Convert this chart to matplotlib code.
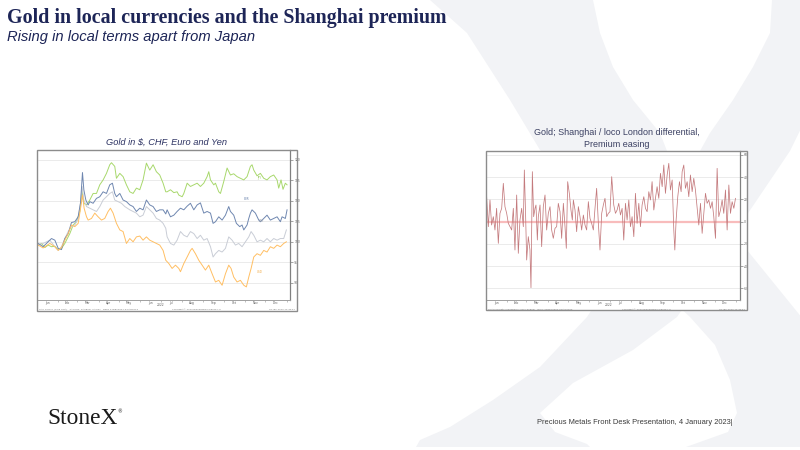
import matplotlib
matplotlib.use('Agg')
import matplotlib.pyplot as plt
from matplotlib.patches import Rectangle, Polygon
from matplotlib.transforms import Affine2D
import numpy as np

# slide text
title = 'Gold in local currencies and the Shanghai premium'
subtitle = 'Rising in local terms apart from Japan'
left_title = 'Gold in $, CHF, Euro and Yen'
right_title = 'Gold; Shanghai / loco London differential,\nPremium easing'
footer = 'Precious Metals Front Desk Presentation, 4 January 2023|'

# month axis (days from 1 Jan 2022)
month_names = ['Jan', 'Feb', 'Mar', 'Apr', 'May', 'Jun', 'Jul', 'Aug', 'Sep', 'Oct', 'Nov', 'Dec']
month_starts = [0, 31, 59, 90, 120, 151, 181, 212, 243, 273, 304, 334, 365]
month_mids = [15, 45, 74, 105, 135, 166, 196, 227, 258, 288, 319, 349]

# gold in yen, rebased to 100
jpy_day = [1.7, 6.6, 11.5, 16.3, 21.2, 26.1, 31.0, 35.8, 40.7, 43.1, 48.0, 52.9, 57.7, 62.6, 66.0,
           68.5, 72.4, 77.2, 82.1, 87.0, 91.8, 96.7, 101.6, 106.4, 108.9, 113.7, 116.2, 121.1, 125.9,
           130.8, 135.7, 140.5, 145.4, 150.3, 155.1, 160.0, 164.9, 169.8, 174.6, 179.5, 184.4, 188.3,
           190.3, 195.2, 200.1, 204.9, 207.4, 212.3, 214.7, 219.6, 224.4, 229.3, 234.2, 239.0, 243.9,
           248.8, 251.2, 253.7, 258.5, 261.0, 265.8, 268.3, 273.1, 278.0, 282.9, 287.7, 292.6, 297.5,
           302.4, 307.2, 312.1, 314.5, 317.0, 321.8, 326.7, 331.6, 336.4, 341.3, 346.2, 351.1, 353.5,
           356.9, 359.8, 363.2, 365.7]
jpy_val = [99.2, 99.6, 98.6, 99.2, 98.8, 98.9, 98.1, 98.4, 99.6, 100.4, 102.0, 104.1, 104.9, 107.4, 112.3,
           109.4, 109.0, 110.2, 111.8, 111.8, 113.9, 115.1, 116.7, 118.8, 119.3, 118.4, 115.5, 116.7, 115.9,
           113.9, 112.2, 111.8, 113.1, 112.7, 115.1, 119.2, 117.5, 118.8, 117.1, 116.3, 114.3, 112.2,
           112.2, 112.7, 112.0, 112.2, 111.4, 111.0, 111.8, 114.3, 113.5, 113.9, 114.3, 113.5, 114.3,
           115.9, 117.1, 115.1, 113.9, 114.3, 112.2, 111.8, 114.7, 118.0, 116.3, 116.6, 115.9, 115.5,
           115.1, 115.9, 118.4, 118.8, 117.5, 116.1, 116.7, 115.5, 115.1, 115.9, 116.3, 115.1, 113.1,
           115.1, 112.8, 114.3, 113.9]

# gold in euro
eur_day = [1.7, 9.0, 16.3, 21.2, 26.1, 31.0, 35.8, 40.7, 45.6, 50.4, 55.3, 60.2, 63.6, 66.5, 68.5,
           71.4, 74.8, 77.2, 82.1, 87.0, 91.8, 96.7, 101.6, 106.4, 110.3, 113.7, 116.2, 121.1, 125.9,
           130.8, 135.7, 140.5, 145.4, 150.3, 155.1, 160.0, 164.9, 169.8, 174.6, 179.5, 184.4, 188.3,
           190.3, 195.2, 200.1, 204.9, 209.8, 214.7, 219.6, 224.4, 229.3, 234.2, 239.0, 241.5, 243.9,
           248.8, 253.7, 257.5, 261.0, 265.8, 270.7, 275.6, 280.4, 282.9, 287.7, 291.6, 296.5, 299.9,
           302.4, 307.2, 309.7, 312.1, 314.5, 319.4, 324.3, 326.7, 331.6, 336.4, 341.3, 346.2, 351.1,
           355.9, 358.4, 363.2, 365.7]
eur_val = [99.6, 98.8, 100.0, 100.8, 100.4, 98.4, 98.1, 100.8, 102.0, 104.7, 104.9, 106.1, 109.4, 116.9, 112.7,
           110.2, 109.0, 109.8, 109.4, 110.6, 111.0, 112.2, 111.8, 113.9, 114.3, 111.8, 111.0, 111.8, 110.2,
           109.8, 109.0, 108.6, 107.4, 108.2, 107.8, 110.2, 109.0, 108.6, 107.4, 107.8, 107.8, 106.8,
           107.8, 106.1, 106.5, 107.4, 108.2, 107.8, 108.7, 109.4, 107.8, 109.0, 109.5, 108.2, 107.0,
           107.4, 107.0, 104.5, 104.9, 106.1, 105.3, 106.5, 108.6, 107.4, 106.5, 104.5, 103.7, 104.1,
           102.9, 104.1, 105.7, 107.0, 107.8, 107.0, 105.3, 104.9, 105.7, 106.5, 105.3, 105.7, 106.1,
           104.9, 106.1, 105.7, 107.8]

# gold in swiss franc
chf_day = [1.7, 9.0, 18.8, 26.1, 31.0, 35.8, 40.7, 45.6, 50.4, 55.3, 60.2, 64.1, 66.0, 68.5, 72.4,
           77.2, 82.1, 87.0, 91.8, 96.7, 101.6, 106.4, 110.3, 113.7, 118.6, 123.5, 128.4, 135.7, 140.5,
           145.4, 150.3, 155.1, 160.0, 164.9, 169.8, 174.6, 179.5, 184.4, 188.3,
           190.3, 195.2, 200.1, 204.9, 209.8, 214.7, 219.6, 224.4, 229.3, 234.2, 239.0, 243.9, 248.8,
           253.7, 257.5, 261.0, 265.8, 270.7, 275.6, 280.4, 285.3, 290.2, 295.0, 299.9, 304.8, 309.7,
           313.1, 317.0, 321.8, 326.7, 331.6, 336.4, 341.3, 346.2, 351.1, 355.9, 360.8, 364.7]
chf_val = [99.3, 99.6, 100.4, 98.8, 97.9, 98.8, 100.8, 102.5, 103.7, 104.1, 105.7, 110.2, 113.5, 110.2, 108.6,
           108.2, 107.8, 107.4, 108.6, 110.2, 111.0, 111.8, 112.2, 110.2, 109.8, 109.4, 108.6, 107.8, 107.4,
           107.0, 106.1, 106.5, 108.6, 107.8, 107.0, 105.7, 105.3, 104.5, 103.3,
           101.2, 99.6, 99.2, 100.4, 102.5, 101.6, 101.2, 102.5, 102.0, 100.8, 101.6, 100.4, 100.8,
           98.8, 96.3, 97.1, 97.9, 97.5, 98.4, 101.2, 100.4, 99.2, 99.6, 98.8, 100.0, 101.2,
           102.5, 101.6, 100.0, 100.4, 100.0, 100.8, 100.0, 100.8, 100.4, 100.8, 100.8, 102.9]

# gold in dollars
usd_day = [1.7, 9.0, 18.8, 26.1, 31.0, 35.8, 40.7, 45.6, 50.4, 55.3, 60.2, 64.1, 66.5, 68.9, 72.4,
           74.8, 79.7, 84.5, 89.4, 94.3, 99.1, 104.0, 107.4, 111.3, 116.2, 121.1, 125.9, 130.8, 135.7,
           140.5, 145.4, 150.3, 155.1, 160.0, 164.9, 169.8, 174.6, 179.5, 184.4, 188.3,
           192.8, 197.6, 202.5, 207.4, 209.8, 214.7, 219.6, 224.4, 226.9, 231.7, 236.6, 241.5, 246.3,
           251.2, 256.1, 261.0, 265.8, 270.7, 275.6, 280.4, 283.8, 287.7, 292.6, 297.5, 302.4, 306.2,
           309.7, 313.1, 317.0, 321.8, 326.7, 331.6, 336.4, 341.3, 346.2, 351.1, 355.9, 360.8, 364.7]
usd_val = [99.2, 98.5, 99.6, 98.8, 97.9, 98.6, 100.4, 102.0, 104.1, 103.7, 104.5, 108.6, 111.4, 108.2, 106.1,
           105.3, 105.7, 107.0, 106.1, 105.3, 105.7, 107.4, 108.2, 107.0, 104.5, 102.9, 102.5, 99.6, 100.8,
           100.0, 101.2, 101.4, 100.4, 101.2, 100.4, 100.0, 99.6, 99.2, 97.9, 95.5,
           94.7, 93.5, 94.3, 93.5, 92.7, 94.7, 96.3, 97.9, 98.4, 97.1, 95.5, 94.3, 93.1,
           94.3, 92.2, 90.2, 90.6, 89.4, 92.2, 94.3, 93.5, 91.4, 90.2, 90.6, 89.4, 89.0,
           91.4, 93.5, 96.3, 97.1, 96.7, 97.9, 97.5, 98.8, 98.4, 99.2, 98.8, 99.6, 100.0]

# Shanghai / loco London differential, $/oz
shp_day = [0.9, 3.4, 5.8, 8.2, 10.7, 13.1, 15.5, 18.0, 20.4, 22.9, 25.3, 27.7, 30.2, 32.6, 35.0, 37.5,
           39.9, 42.3, 44.8, 47.2, 49.6, 52.1, 54.5, 56.0, 57.9, 59.4, 61.8, 64.2, 65.7, 67.7, 69.6,
           71.6, 73.0, 75.0, 76.4, 78.9, 81.3, 83.7, 86.2, 88.6, 91.0, 93.5, 95.9, 98.3, 100.8, 103.2,
           105.6, 108.1, 110.5, 113.0, 115.4, 117.3, 119.3, 121.7, 124.1, 126.1, 127.6, 130.0, 132.4,
           134.9, 137.3, 139.7, 142.2, 144.6, 147.0, 149.5, 151.9, 154.3, 156.8, 159.2, 161.6, 164.1,
           166.5, 169.0, 171.4, 173.8, 176.3, 178.7, 181.1, 183.6,
           186.6, 189.1, 191.5, 193.9, 196.4, 198.8, 201.2, 203.7, 206.1, 208.6, 211.0, 213.4, 215.9,
           218.3, 220.7, 223.2, 225.6, 228.0, 230.5, 232.9, 235.3, 237.8, 240.2, 242.6, 245.1, 247.5,
           249.9, 252.4, 254.8, 257.3, 259.7, 262.1, 264.6, 267.0, 269.4, 271.9, 274.3, 275.8, 277.7,
           280.1, 282.6, 285.0, 286.5, 288.9, 291.3, 293.8, 296.2, 298.6, 301.1, 303.5, 305.9, 308.4,
           310.8, 313.3, 315.7, 318.1, 320.6, 323.0, 325.4, 327.9, 330.3, 332.7, 335.2, 337.6, 340.0,
           342.5, 344.9, 347.3, 349.8, 352.2, 354.7, 357.1, 359.5, 362.0, 364.4]
shp_val = [22.5, -4.5, 19.5, -3.0, 4.5, -7.5, 12.0, -19.5, 7.5, 12.0, 34.5, 13.5, 7.5, -1.5, -4.5, -7.5,
           12.0, -25.5, 24.0, -28.5, 1.5, 12.0, -4.5, 46.5, 4.5, -34.5, -13.5, -25.5, -59.4, 45.0, 4.5,
           12.0, 15.0, -16.5, 4.5, 15.0, -22.5, 13.5, 24.0, -7.5, 7.5, 13.5, -7.5, -15.0, -6.0, -4.5,
           16.5, 9.0, -15.0, 16.5, -4.5, -24.0, 36.0, 25.5, 10.5, 1.5, 19.5, 10.5, -9.0,
           13.5, 4.5, -7.5, 6.0, -3.0, -7.5, 18.0, 3.0, -1.5, -7.5, 12.0, 30.0, -1.5,
           -25.5, 7.5, 15.0, 21.0, 4.5, 7.5, 9.0, 40.5,
           15.0, 7.5, 10.5, 16.5, 6.0, 12.0, -16.5, 16.5, 1.5, 19.5, -4.5, 4.5, -13.5,
           25.5, -1.5, 16.5, -4.5, 15.0, 22.5, 12.0, 9.0, 27.0, 19.5, 36.0, 10.5, 21.0,
           31.5, 21.0, 43.5, 31.5, 51.0, 25.5, 42.0, 52.5, 28.5, 37.5, -7.5, -25.5, 1.5,
           22.5, 36.0, 27.0, 45.0, 51.0, 30.0, 36.0, 22.5, 42.0, 27.0, 39.0, 28.5, 12.0,
           -3.0, 16.5, -10.5, 7.5, 25.5, 16.5, 19.5, 12.0, 18.0, 4.5, -15.0, 48.0, 4.5,
           10.5, 19.5, 7.5, 28.5, -7.5, 33.0, 7.5, 18.0, 12.0, 21.0]

left_ticks = [90, 95, 100, 105, 110, 115, 120]
right_ticks = [-60, -40, -20, 0, 20, 40, 60]

# outline of the background StoneX "X" logo, slide pixels (y down)
logo_thick = [(420, -10), (430, 0), (467, 33), (510, 100), (540, 150), (600, 225), (650, 280),
              (690, 317), (715, 345), (730, 380), (737, 413), (728, 432), (700, 442), (686, 447),
              (830, 447), (830, 350), (820, 340), (734, 234), (667, 151), (660, 133), (633, 100),
              (613, 67), (600, 33), (593, 0), (592, -10)]
logo_thin = [(775, -10), (772, 0), (770, 33), (753, 67), (733, 100), (710, 133), (700, 151),
             (650, 220), (587, 317), (540, 367), (493, 400), (450, 427), (420, 440), (416, 447),
             (590, 447), (587, 444), (555, 432), (540, 413), (573, 383), (633, 350), (677, 317),
             (734, 234), (790, 151), (815, 100), (830, 50), (840, -10)]

W, H = 800, 450
fig = plt.figure(figsize=(8, 4.5), dpi=100)
fig.patch.set_facecolor('white')

def fx(x):
  return x / W

def fy(y):
  return 1 - y / H

# watermark behind everything
to_px = Affine2D().scale(1, -1).translate(0, H)
for outline in [logo_thick, logo_thin]:
  fig.patches.append(Polygon(outline, closed=True, facecolor='#f2f3f6', edgecolor='none',
                             transform=to_px, zorder=-5))

navy = '#1d2557'
fig.text(fx(7), fy(18), title, fontsize=14.4, family='Liberation Serif',
         weight='bold', color=navy, va='center', ha='left')
fig.text(fx(7), fy(37), subtitle, fontsize=10.6, family='Liberation Sans',
         style='italic', color=navy, va='center', ha='left')

def chart_frame(x0, x1, y0, y1):
  fig.patches.append(Rectangle((fx(x0), fy(y1)), fx(x1) - fx(x0), fy(y0) - fy(y1),
                               transform=fig.transFigure, facecolor='white',
                               edgecolor='none', zorder=-1))
  fig.patches.append(Rectangle((fx(x0), fy(y1)), fx(x1) - fx(x0), fy(y0) - fy(y1),
                               transform=fig.transFigure, fill=False,
                               edgecolor='#8c8c8c', linewidth=1.0, zorder=5))

def style_axes(ax, ticks):
  for s in ['top', 'left']:
    ax.spines[s].set_visible(False)
  ax.spines['right'].set_color('#808080')
  ax.spines['bottom'].set_color('#a0a0a0')
  ax.spines['right'].set_linewidth(0.9)
  ax.spines['bottom'].set_linewidth(0.7)
  ax.yaxis.tick_right()
  ax.set_yticks(ticks)
  ax.set_yticklabels([str(t) for t in ticks])
  ax.tick_params(axis='y', labelsize=2.2, colors='#606060', length=2, width=0.4, pad=1)
  ax.set_xticks(month_starts)
  ax.set_xticklabels([])
  ax.set_xticks(month_mids, minor=True)
  ax.set_xticklabels(month_names, minor=True)
  ax.tick_params(axis='x', which='major', length=1.5, width=0.4, colors='#909090')
  ax.tick_params(axis='x', which='minor', length=0, labelsize=2.2, labelcolor='#606060', pad=0.4)
  ax.grid(axis='y', color='#e8e8e8', linewidth=0.6)
  ax.set_axisbelow(True)
  ax.set_facecolor('white')

def chart_footer(x0, xc, x1, source):
  fig.text(fx(x0), fy(309), source, fontsize=1.7, color='#707070', ha='left', va='center')
  fig.text(fx(xc), fy(309), 'Copyright\u00a9 2023 Bloomberg Finance L.P.',
           fontsize=1.7, color='#707070', ha='center', va='center')
  fig.text(fx(x1), fy(309), '04-Jan-2023 10:45:21',
           fontsize=1.7, color='#707070', ha='right', va='center')

# left chart
ax1 = fig.add_axes([fx(37), fy(300), fx(290) - fx(37), fy(150) - fy(300)])
ax1.plot(jpy_day, jpy_val, color='#a8d86c', linewidth=0.7)
ax1.plot(chf_day, chf_val, color='#c9cdd6', linewidth=0.7)
ax1.plot(eur_day, eur_val, color='#6f87b0', linewidth=0.7)
ax1.plot(usd_day, usd_val, color='#ffbf63', linewidth=0.7)
ax1.set_xlim(0, 370)
ax1.set_ylim(85.8, 122.4)
style_axes(ax1, left_ticks)
ax1.text(322, 115.3, 'JPY', fontsize=2, color='#9ac860')
ax1.text(302, 110.3, 'EUR', fontsize=2, color='#6f87b0')
ax1.text(325, 104.9, 'CHF', fontsize=2, color='#9aa0aa')
ax1.text(321, 92.4, 'USD', fontsize=2, color='#f0a840')
chart_frame(37, 297, 150, 311)
fig.text(fx(167), fy(142), left_title, fontsize=6.7, family='Liberation Sans',
         style='italic', color='#2c3262', ha='center', va='center')
fig.text(fx(161), fy(305), '2022', fontsize=2.2, color='#606060', ha='center', va='center')
chart_footer(39, 197, 295, 'XAU Curncy (Gold Spot)   XAUCHF, XAUEUR, XAUJPY   Daily 31DEC2021-04JAN2023')

# right chart
ax2 = fig.add_axes([fx(486), fy(300), fx(740) - fx(486), fy(151) - fy(300)])
ax2.axhline(0, color='#f8bcbc', linewidth=1.6, zorder=2)
ax2.plot(shp_day, shp_val, color='#c47a7d', linewidth=0.55, zorder=3)
ax2.set_xlim(0, 371)
ax2.set_ylim(-70.5, 63.6)
style_axes(ax2, right_ticks)
chart_frame(486, 747, 151, 310)
fig.text(fx(617), fy(138.5), right_title, fontsize=6.5, family='Liberation Sans',
         color='#3b4062', ha='center', va='center', linespacing=1.3)
fig.text(fx(609), fy(305), '2022', fontsize=2.2, color='#606060', ha='center', va='center')
chart_footer(488, 647, 745, 'SHAU Comdty (Shanghai / loco London)   Daily 31DEC2021-04JAN2023')

# footer
fig.text(fx(47), fy(419), 'StoneX', fontsize=16.8, family='Liberation Serif',
         color='#1a1a1a', ha='left', va='center')
fig.text(fx(117), fy(412), '\u00ae', fontsize=3.5, color='#1a1a1a', ha='left', va='center')
fig.text(fx(733), fy(423), footer, fontsize=5.4, family='Liberation Sans',
         color='#3a3a3a', ha='right', va='center')

fig.savefig('out.png', dpi=100)
